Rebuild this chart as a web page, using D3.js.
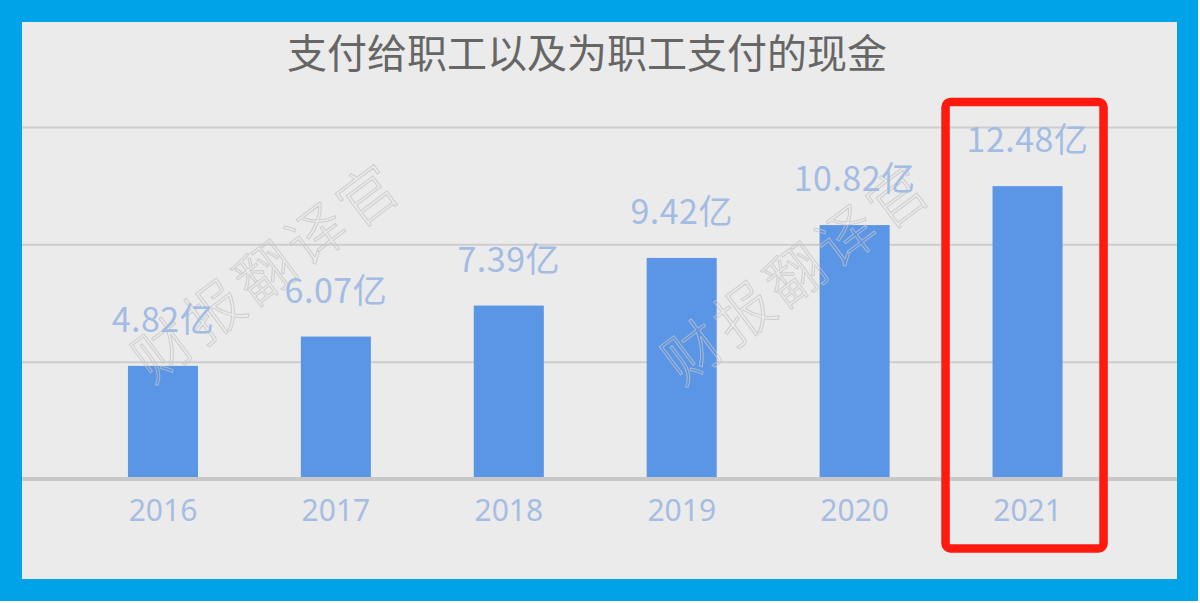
<!DOCTYPE html>
<html>
<head>
<meta charset="utf-8">
<script src="https://cdn.jsdelivr.net/npm/d3@7"></script>
<style>
  html, body { margin: 0; padding: 0; background: #ffffff; }
  svg { display: block; }
</style>
</head>
<body>
<svg id="chart" width="1200" height="603"></svg>
<script>
const title = "支付给职工以及为职工支付的现金";
const years = ["2016", "2017", "2018", "2019", "2020", "2021"];
const values = [4.82, 6.07, 7.39, 9.42, 10.82, 12.48];
const valueLabels = ["4.82亿", "6.07亿", "7.39亿", "9.42亿", "10.82亿", "12.48亿"];
const gridTicks = [5, 10, 15];
const highlightYear = "2021";
const watermark = "财报翻译官";

const svg = d3.select("#chart");
const fontCJK = "'Noto Sans CJK SC', 'Noto Sans', sans-serif";

// frame
svg.append("rect").attr("x", 0).attr("y", 0).attr("width", 1198).attr("height", 601).attr("fill", "#00a2e8");
svg.append("rect").attr("x", 22).attr("y", 22).attr("width", 1155).attr("height", 557).attr("fill", "#ebebeb");

const x = d3.scaleBand().domain(years).range([76.5, 1114]).paddingInner(0.595).paddingOuter(0.2975);
const y = d3.scaleLinear().domain([0, 15]).range([479, 127]);

// gridlines
const grid = svg.append("g").attr("transform", "translate(22,0)")
  .call(d3.axisLeft(y).tickValues(gridTicks).tickSize(-1155).tickFormat(""));
grid.select(".domain").remove();
grid.selectAll(".tick line").attr("stroke", "#cdcdcd").attr("stroke-width", 2);

// bars
svg.append("g").selectAll("rect").data(years).join("rect")
  .attr("x", d => x(d))
  .attr("width", x.bandwidth())
  .attr("y", (d, i) => y(values[i]))
  .attr("height", (d, i) => y(0) - y(values[i]))
  .attr("fill", "#5b95e5");

// baseline axis
const xAxis = svg.append("g").attr("transform", `translate(0,${y(0)})`)
  .call(d3.axisBottom(x).tickSize(0).tickPadding(0));
xAxis.select(".domain").remove();
xAxis.selectAll(".tick text")
  .attr("dy", 0).attr("y", 42)
  .attr("font-family", "'Noto Sans', 'DejaVu Sans', sans-serif")
  .attr("font-size", 30)
  .attr("fill", "#a6bde2");
svg.append("line").attr("x1", 22).attr("x2", 1177).attr("y1", y(0)).attr("y2", y(0))
  .attr("stroke", "#c8c8c8").attr("stroke-width", 4);

// watermarks (on top, translucent)
const wmCenters = [[265, 268], [795, 270]];
svg.append("g").selectAll("text").data(wmCenters).join("text")
  .attr("transform", d => `translate(${d[0]},${d[1]}) rotate(-37)`)
  .attr("text-anchor", "middle")
  .attr("dominant-baseline", "central")
  .attr("font-family", fontCJK)
  .attr("font-weight", 300)
  .attr("font-size", 58)
  .attr("letter-spacing", 6)
  .attr("fill", "none")
  .attr("stroke", "#c4c4c4")
  .attr("stroke-opacity", 0.75)
  .attr("stroke-width", 1)
  .text(watermark);

// value labels
svg.append("g").selectAll("text").data(years).join("text")
  .attr("x", d => x(d) + x.bandwidth() / 2)
  .attr("y", (d, i) => y(values[i]) - 34)
  .attr("text-anchor", "middle")
  .attr("font-family", fontCJK)
  .attr("font-size", 34)
  .attr("letter-spacing", 0.5)
  .attr("fill", "#a3bce3")
  .text((d, i) => valueLabels[i]);

// title
svg.append("text")
  .attr("x", 587).attr("y", 51)
  .attr("text-anchor", "middle")
  .attr("dominant-baseline", "central")
  .attr("font-family", fontCJK)
  .attr("font-size", 40)
  .attr("fill", "#666666")
  .text(title);

// highlight box
const hx = x(highlightYear) + x.bandwidth() / 2;
svg.append("rect")
  .attr("x", hx - 82).attr("y", 102)
  .attr("width", 158).attr("height", 446.5)
  .attr("rx", 5).attr("ry", 5)
  .attr("fill", "none")
  .attr("stroke", "#ff1a0f")
  .attr("stroke-width", 8.5);
</script>
</body>
</html>
